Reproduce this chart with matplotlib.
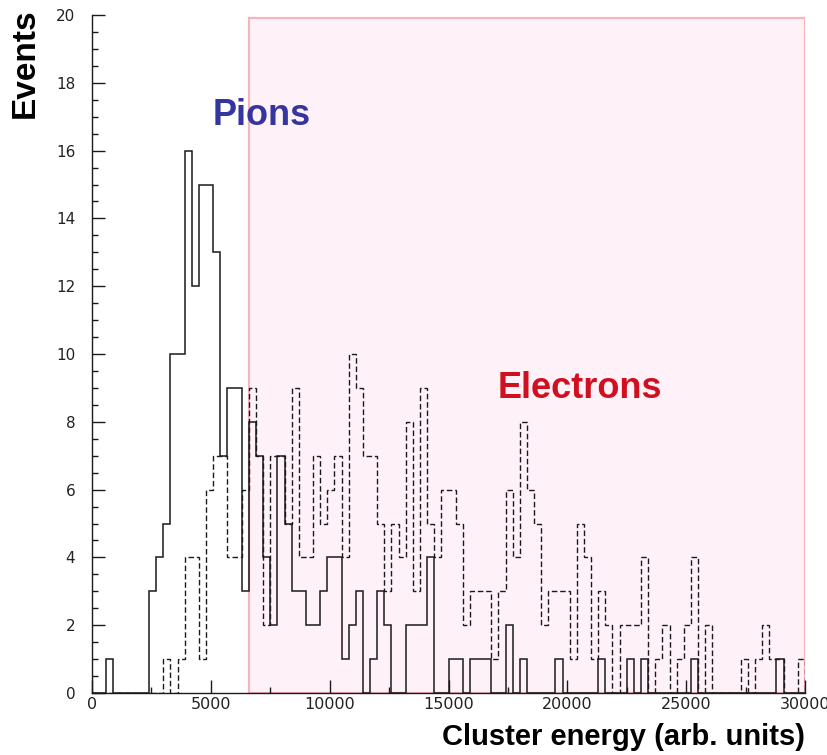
import numpy as np
import matplotlib
matplotlib.use("Agg")
import matplotlib.pyplot as plt
from matplotlib.ticker import MultipleLocator
from matplotlib.patches import Rectangle

plt.rcParams['font.family'] = ['Liberation Sans', 'DejaVu Sans']

# 100 bins of 300 units from 0 to 30000
e_min, e_max, n_bins = 0, 30000, 100
edges = np.linspace(e_min, e_max, n_bins + 1)

# counts per bin, pion sample (solid)
pions = [0, 0, 1, 0, 0, 0, 0, 0, 3, 4,
         5, 10, 10, 16, 12, 15, 15, 13, 7, 9,
         9, 3, 8, 7, 4, 2, 7, 5, 3, 3,
         2, 2, 3, 4, 4, 1, 2, 3, 0, 1,
         3, 2, 0, 0, 2, 2, 2, 4, 0, 0,
         1, 1, 0, 1, 1, 1, 0, 0, 2, 0,
         1, 0, 0, 0, 0, 1, 0, 0, 0, 0,
         0, 1, 0, 0, 0, 1, 0, 1, 0, 0,
         0, 0, 0, 0, 1, 0, 0, 0, 0, 0,
         0, 0, 0, 0, 0, 0, 1, 0, 0, 0]

# counts per bin, electron sample (dashed)
electrons = [0, 0, 0, 0, 0, 0, 0, 0, 0, 0,
             1, 0, 1, 4, 4, 1, 6, 7, 7, 4,
             4, 6, 9, 7, 2, 7, 7, 5, 9, 4,
             4, 7, 5, 6, 7, 4, 10, 9, 7, 7,
             5, 3, 5, 4, 8, 3, 9, 5, 4, 6,
             6, 5, 2, 3, 3, 3, 1, 3, 6, 4,
             8, 6, 5, 2, 3, 3, 3, 1, 5, 4,
             1, 3, 2, 0, 2, 2, 2, 4, 0, 1,
             2, 0, 1, 2, 4, 0, 2, 0, 0, 0,
             0, 1, 0, 1, 2, 1, 1, 0, 0, 1]

# electron selection window
cut_low = 6600
cut_top = 19.9

fig = plt.figure(figsize=(8.28, 7.55), dpi=100)
ax = fig.add_axes([92 / 828, 62 / 755, 713 / 828, 678 / 755])

ax.add_patch(Rectangle((cut_low, 0), e_max - cut_low, cut_top,
                       facecolor='#fff1f8', edgecolor='#f6b4bc', lw=1.6, zorder=0))

ax.stairs(pions, edges, color='#1a1a1a', lw=1.1, zorder=3)
ax.stairs(electrons, edges, color='#1a1a1a', lw=1.0, ls=(0, (4, 2)), zorder=2)

ax.set_xlim(e_min, e_max)
ax.set_ylim(0, 20)

for side in ['top', 'right']:
    ax.spines[side].set_visible(False)
for side in ['left', 'bottom']:
    ax.spines[side].set_color('#1a1a1a')
    ax.spines[side].set_linewidth(1.0)

ax.xaxis.set_major_locator(MultipleLocator(5000))
ax.xaxis.set_minor_locator(MultipleLocator(2500))
ax.yaxis.set_major_locator(MultipleLocator(2))
ax.yaxis.set_minor_locator(MultipleLocator(0.5))

ax.tick_params(axis='both', which='both', direction='in', color='#1a1a1a',
               top=False, right=False)
ax.tick_params(axis='x', which='major', length=9.5, width=1, pad=3, labelsize=11.5)
ax.tick_params(axis='x', which='minor', length=4.5, width=1)
ax.tick_params(axis='y', which='major', length=9.5, width=1, pad=12, labelsize=11)
ax.tick_params(axis='y', which='minor', length=4, width=1)
for lab in ax.get_xticklabels() + ax.get_yticklabels():
    lab.set_family('DejaVu Sans')
    lab.set_color('#222222')

ax.set_xlabel('Cluster energy (arb. units)', fontsize=21, fontweight='bold',
              loc='right', labelpad=8)
fig.text(25 / 828, 1 - 8 / 755, 'Events', rotation=90, ha='center', va='top',
         fontsize=24, fontweight='bold')

ax.text(5090, 16.75, 'Pions', color='#3535a0', fontsize=26, fontweight='bold')
ax.text(17080, 8.7, 'Electrons', color='#d01020', fontsize=26, fontweight='bold')

fig.savefig('out.png', dpi=100)
